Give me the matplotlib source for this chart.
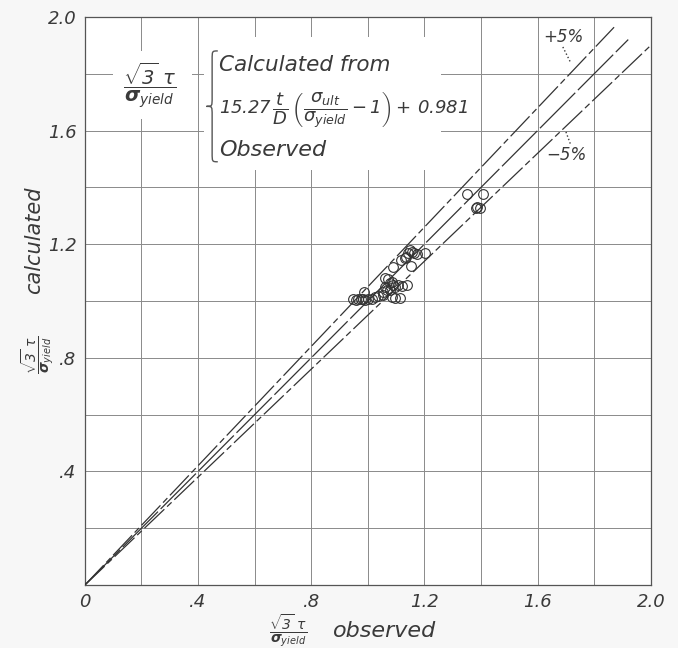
import numpy as np
import matplotlib
matplotlib.use("Agg")
import matplotlib.pyplot as plt
from matplotlib.path import Path
from matplotlib.patches import PathPatch, Rectangle

plt.rcParams['font.family'] = ['DejaVu Sans']
plt.rcParams['mathtext.fontset'] = 'custom'
plt.rcParams['mathtext.rm'] = 'DejaVu Sans:italic'
plt.rcParams['mathtext.it'] = 'DejaVu Sans:italic'
plt.rcParams['mathtext.bf'] = 'DejaVu Sans:bold:italic'

INK = '#3a3a3a'

# ── observed vs calculated ───────────────────────────────────────────────────
obs = [0.947, 0.958, 0.965, 0.975, 0.982, 0.989, 0.986, 1.000, 1.014, 1.025,
       1.035, 1.053, 1.053, 1.060, 1.060, 1.071, 1.078, 1.085, 1.088, 1.095,
       1.106, 1.120, 1.078, 1.067, 1.085, 1.095, 1.113, 1.138, 1.088, 1.117,
       1.131, 1.141, 1.148, 1.155, 1.163, 1.152, 1.134, 1.173, 1.201, 1.350,
       1.406, 1.385, 1.382, 1.396]
calc = [1.007, 1.004, 1.007, 1.007, 1.007, 1.004, 1.032, 1.007, 1.007, 1.014,
        1.018, 1.021, 1.032, 1.049, 1.081, 1.077, 1.063, 1.067, 1.056, 1.049,
        1.056, 1.053, 1.039, 1.039, 1.014, 1.011, 1.011, 1.056, 1.120, 1.144,
        1.151, 1.169, 1.180, 1.173, 1.169, 1.123, 1.155, 1.165, 1.169, 1.377,
        1.377, 1.331, 1.327, 1.327]

# reference lines: slope and x where each line stops
line_slopes = [1.05, 1.00, 0.95]
line_xend   = [1.87, 1.92, 2.00]
line_styles = [(0, (22, 3, 5, 3)), (0, (40, 3)), (0, (22, 3, 5, 3))]

major = [0.0, 0.4, 0.8, 1.2, 1.6, 2.0]
xlabels = ['0', '.4', '.8', '1.2', '1.6', '2.0']
ylabels = ['', '.4', '.8', '1.2', '1.6', '2.0']
grid_ticks = np.arange(0, 2.01, 0.2)


def left_brace(ax, x, y0, y1, w, **kw):
    ym = 0.5 * (y0 + y1)
    r = 0.08 * (y1 - y0)
    xm = x + 0.5 * w
    verts = [(x + w, y1), (xm, y1), (xm, y1), (xm, y1 - r),
             (xm, ym + r), (xm, ym), (xm, ym), (x, ym),
             (xm, ym), (xm, ym), (xm, ym - r),
             (xm, y0 + r), (xm, y0), (xm, y0), (x + w, y0)]
    codes = [Path.MOVETO, Path.CURVE4, Path.CURVE4, Path.CURVE4,
             Path.LINETO, Path.CURVE4, Path.CURVE4, Path.CURVE4,
             Path.CURVE4, Path.CURVE4, Path.CURVE4,
             Path.LINETO, Path.CURVE4, Path.CURVE4, Path.CURVE4]
    ax.add_patch(PathPatch(Path(verts, codes), fill=False, **kw))


fig = plt.figure(figsize=(6.78, 6.48), dpi=100)
ax = fig.add_axes([0.125, 0.097, 0.835, 0.877])
ax.set_xlim(0, 2.0); ax.set_ylim(0, 2.0)

ax.set_xticks(grid_ticks, minor=True); ax.set_yticks(grid_ticks, minor=True)
ax.set_xticks(major); ax.set_yticks(major)
ax.set_xticklabels(xlabels, fontsize=13, style='italic', color=INK)
ax.set_yticklabels(ylabels, fontsize=13, style='italic', color=INK)
ax.tick_params(which='both', length=0, pad=6)
ax.grid(which='both', color='#8a8a8a', lw=0.7)
ax.set_axisbelow(True)
for s in ax.spines.values():
    s.set_color('#555'); s.set_linewidth(0.9)

for k, xe, ls in zip(line_slopes, line_xend, line_styles):
    xx = np.array([0.0, xe])
    ax.plot(xx, k * xx, color='#333', lw=0.9, linestyle=ls, zorder=3)

ax.plot(obs, calc, 'o', mfc='none', mec='#333', ms=7, mew=0.8, zorder=4)

# ±5 % annotations
ax.text(1.62, 1.93, '+5%', fontsize=12, style='italic', color=INK, ha='left', va='center')
ax.plot([1.689, 1.717], [1.894, 1.838], ':', color=INK, lw=1)
ax.text(1.63, 1.515, '\u22125%', fontsize=12, style='italic', color=INK, ha='left', va='center')
ax.plot([1.70, 1.717], [1.595, 1.549], ':', color=INK, lw=1)

# legend block (white paper behind it, the grid is broken there)
ax.add_patch(Rectangle((0.10, 1.64), 0.28, 0.24, facecolor='white', edgecolor='none', zorder=1))
ax.add_patch(Rectangle((0.42, 1.46), 0.84, 0.47, facecolor='white', edgecolor='none', zorder=1))
frac = r'$\dfrac{\sqrt{3}\ \tau}{\mathbf{\sigma}_{yield}}$'
ax.text(0.23, 1.76, frac, fontsize=14, color=INK, ha='center', va='center', zorder=5)
left_brace(ax, 0.43, 1.49, 1.88, 0.04, color='#555', lw=1.0, zorder=5)
ax.text(0.475, 1.83, 'Calculated from', fontsize=15.5, style='italic', color=INK,
        ha='left', va='center', zorder=5)
ax.text(0.475, 1.67,
        r'$15.27\,\dfrac{t}{D}\,\left(\dfrac{\sigma_{ult}}{\sigma_{yield}}-1\right)+\,0.981$',
        fontsize=13, color=INK, ha='left', va='center', zorder=5)
ax.text(0.475, 1.53, 'Observed', fontsize=16, style='italic', color=INK,
        ha='left', va='center', zorder=5)

# axis titles
ax.text(0.36, -0.08, frac, transform=ax.transAxes, fontsize=10, color=INK,
        ha='center', va='center')
ax.text(0.438, -0.08, 'observed', transform=ax.transAxes, fontsize=16, style='italic',
        color=INK, ha='left', va='center')
ax.text(-0.083, 0.405, frac, transform=ax.transAxes, fontsize=10, color=INK,
        ha='center', va='center', rotation=90)
ax.text(-0.09, 0.607, 'calculated', transform=ax.transAxes, fontsize=15, style='italic',
        color=INK, ha='center', va='center', rotation=90)

fig.savefig('out.png', dpi=100, facecolor='#f7f7f7')
